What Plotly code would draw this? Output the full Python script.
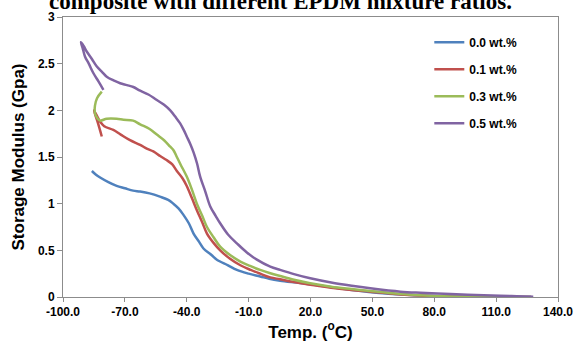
import plotly.graph_objects as go

names = ["0.0 wt.%", "0.1 wt.%", "0.3 wt.%", "0.5 wt.%"]
colors = ["#4F81BD", "#C0504D", "#9BBB59", "#8064A2"]

x_00 = [-86, -84, -82, -78, -74, -70, -66, -62.6, -58, -53, -49, -46.5, -44, -41.6, -39, -36.7, -34, -31.9,
        -28, -25.4, -20, -15.7, -10, -4.4, 0, 5.3, 15, 25, 40, 55, 70, 85, 100, 115, 127]
y_00 = [1.35, 1.31, 1.28, 1.23, 1.19, 1.165, 1.14, 1.13, 1.11, 1.075, 1.04, 1.0, 0.95, 0.88, 0.79, 0.68, 0.59, 0.52,
        0.45, 0.40, 0.34, 0.29, 0.25, 0.22, 0.195, 0.175, 0.15, 0.12, 0.075, 0.04, 0.02, 0.008, 0.003, 0.001, 0.0]

x_01 = [-81.2, -83, -85, -82, -80, -75.6, -72, -67.5, -62.6, -59.4, -56.2, -52.9, -50, -47, -44.8, -42, -40,
        -37.5, -35.1, -32.5, -30.2, -27, -23.8, -19, -14, -9, -4.4, 0.5, 5.3, 12, 19.9, 30, 40, 49, 60, 73,
        85, 100, 115, 127]
y_01 = [1.72, 1.86, 2.0, 1.88, 1.83, 1.79, 1.74, 1.68, 1.63, 1.59, 1.56, 1.51, 1.47, 1.42, 1.35, 1.27, 1.19,
        1.06, 0.93, 0.80, 0.68, 0.58, 0.50, 0.41, 0.34, 0.29, 0.25, 0.21, 0.19, 0.16, 0.13, 0.10, 0.075, 0.057,
        0.035, 0.015, 0.006, 0.002, 0.001, 0.0]

x_03 = [-81.2, -83.5, -84.5, -84.5, -83.5, -82, -78.8, -74, -70.7, -66, -62.6, -58, -54.5, -51, -48, -46.5,
        -44.8, -43, -40, -37.5, -35.1, -32.5, -30.2, -27, -23.8, -19, -14, -9, -4.4, 0.5, 5.3, 12, 19.9, 30,
        40, 49, 60, 73, 85, 100, 115, 127]
y_03 = [2.20, 2.13, 2.05, 1.97, 1.92, 1.89, 1.91, 1.91, 1.90, 1.89, 1.85, 1.80, 1.74, 1.68, 1.61, 1.575,
        1.50, 1.42, 1.29, 1.15, 1.0, 0.87, 0.75, 0.64, 0.54, 0.45, 0.38, 0.33, 0.29, 0.255, 0.225, 0.185, 0.147,
        0.11, 0.085, 0.064, 0.04, 0.02, 0.007, 0.002, 0.001, 0.0]

x_05 = [-80.4, -82.8, -85.3, -87.5, -89.3, -90.5, -91.3, -90, -88.5, -86, -83.6, -81, -78.8, -75.5, -72.3,
        -69, -65.9, -62.6, -58.6, -54.5, -51, -48, -45.5, -43.2, -41.5, -40, -38.3, -36.7, -35, -33.5, -31,
        -28.6, -26, -23.8, -20, -15.7, -11, -6, 0.5, 5.3, 12, 19.9, 30, 40, 49, 63.6, 73.3, 87.9, 100, 112,
        120, 128]
y_05 = [2.22, 2.31, 2.40, 2.50, 2.575, 2.67, 2.73, 2.69, 2.63, 2.55, 2.47, 2.41, 2.36, 2.32, 2.29,
        2.27, 2.25, 2.21, 2.17, 2.11, 2.06, 2.0, 1.93, 1.86, 1.79, 1.72, 1.64, 1.55, 1.43, 1.29, 1.13,
        0.97, 0.87, 0.79, 0.67, 0.575, 0.48, 0.40, 0.325, 0.29, 0.245, 0.20, 0.155, 0.12, 0.093, 0.057,
        0.045, 0.032, 0.022, 0.014, 0.008, 0.003]

xs = [x_00, x_01, x_03, x_05]
ys = [y_00, y_01, y_03, y_05]

x_ticks = [-100, -70, -40, -10, 20, 50, 80, 110, 140]
x_tick_labels = ["-100.0", "-70.0", "-40.0", "-10.0", "20.0", "50.0", "80.0", "110.0", "140.0"]
y_ticks = [0, 0.5, 1, 1.5, 2, 2.5, 3]
y_tick_labels = ["0", "0.5", "1", "1.5", "2", "2.5", "3"]

fig = go.Figure()
for n, c, x, y in zip(names, colors, xs, ys):
    fig.add_trace(go.Scatter(x=x, y=y, mode="lines", name=n, legendgroup=n,
                             line=dict(color=c, width=2.5, shape="spline", smoothing=1.0)))

FONT = "Liberation Sans, Arial, sans-serif"
axis_font = dict(family=FONT, size=12, color="#000000", weight="bold")

fig.update_layout(
    width=574, height=345,
    margin=dict(l=63, r=16, t=17, b=48, autoexpand=False),
    paper_bgcolor="white", plot_bgcolor="white",
    showlegend=True,
    legend=dict(x=0.74, y=0.962, xanchor="left", yanchor="top",
                font=dict(family=FONT, size=12, color="#000000", weight="bold"),
                bgcolor="rgba(0,0,0,0)", tracegroupgap=8, traceorder="grouped"),
    xaxis=dict(range=[-100, 140], tickvals=x_ticks, ticktext=x_tick_labels, automargin=False,
               showline=True, linecolor="#8C8C8C", linewidth=1, mirror=True,
               ticks="outside", ticklen=4, tickcolor="#8C8C8C",
               showgrid=False, zeroline=False, tickfont=axis_font,
               title=dict(text="Temp. (<sup>o</sup>C)", standoff=5,
                          font=dict(family=FONT, size=17, color="#000000", weight="bold"))),
    yaxis=dict(range=[0, 3], tickvals=y_ticks, ticktext=y_tick_labels, automargin=False,
               showline=True, linecolor="#8C8C8C", linewidth=1, mirror=True,
               ticks="outside", ticklen=5, tickcolor="#8C8C8C",
               showgrid=False, zeroline=False, tickfont=axis_font,
               title=dict(text="Storage Modulus (Gpa)", standoff=8,
                          font=dict(family=FONT, size=17, color="#000000", weight="bold"))),
    annotations=[dict(text="composite with different EPDM mixture ratios.", xref="paper", yref="paper",
                      x=0.44, y=1.054, xanchor="center", yanchor="middle", showarrow=False,
                      font=dict(family="Liberation Serif, Times New Roman, serif", size=23, color="#000000",
                                weight="bold"))],
)

fig.write_html("out.html", config={"displayModeBar": False},
               post_script="document.body.style.margin='0px';")
